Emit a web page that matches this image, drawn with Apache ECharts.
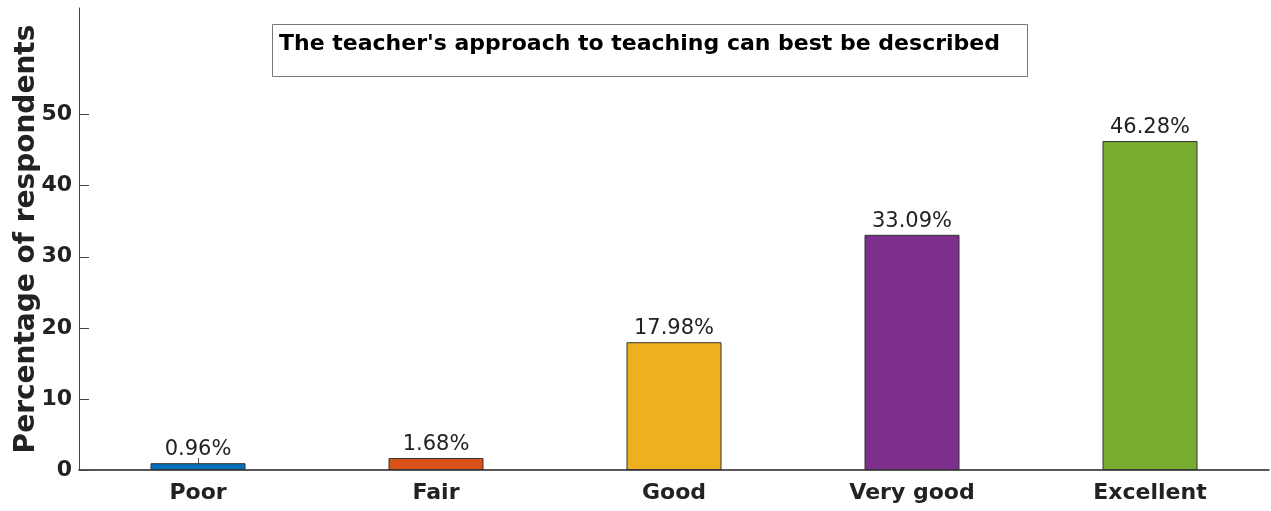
<!DOCTYPE html>
<html><head><meta charset="utf-8">
<script src="https://cdn.jsdelivr.net/npm/echarts@6/dist/echarts.min.js"></script>
<style>html,body{margin:0;padding:0;background:#fff}#c{width:1271px;height:511px}</style>
</head><body><div id="c"></div>
<script>
const categories = ['Poor', 'Fair', 'Good', 'Very good', 'Excellent'];
const values = [0.96, 1.68, 17.98, 33.09, 46.28];
const colors = ['#0072BD', '#D95319', '#EDB120', '#7E2F8E', '#77AC30'];
const yTicks = [0, 10, 20, 30, 40, 50];
const titleText = "The teacher's approach to teaching can best be described";
const yName = 'Percentage of respondents';

const chart = echarts.init(document.getElementById('c'));
const F = 'DejaVu Sans';
chart.setOption({
  animation: false,
  grid: { left: 79, right: 2, top: 8, bottom: 41, containLabel: false, outerBoundsMode: 'none' },
  xAxis: {
    type: 'category', data: categories, boundaryGap: true,
    axisLine: { lineStyle: { color: '#222', width: 1.5 } },
    axisTick: { show: true, inside: true, alignWithLabel: true, length: 12, lineStyle: { color: '#555' } },
    axisLabel: { fontFamily: F, fontWeight: 'bold', fontSize: 22, color: '#222', margin: 12 }
  },
  yAxis: {
    type: 'value', min: 0, max: 65, interval: 10,
    name: yName, nameLocation: 'middle', nameGap: 38, nameMoveOverlap: false,
    nameTextStyle: { fontFamily: F, fontWeight: 'bold', fontSize: 28, color: '#222' },
    splitLine: { show: false },
    axisLine: { show: true, lineStyle: { color: '#444', width: 1 } },
    axisTick: { show: true, inside: true, length: 10, customValues: yTicks, lineStyle: { color: '#444' } },
    axisLabel: { fontFamily: F, fontWeight: 'bold', fontSize: 22, color: '#222', margin: 7, customValues: yTicks }
  },
  series: [{
    type: 'bar', barWidth: 95,
    data: values.map((v, i) => ({ value: v, itemStyle: { color: colors[i] } })),
    itemStyle: { borderColor: '#333', borderWidth: 1 },
    label: { show: true, position: 'top', distance: 3, fontFamily: F, fontSize: 21, color: '#222',
      formatter: p => p.value.toFixed(2) + '%' }
  }],
  graphic: [
    { type: 'rect', left: 272, top: 24, shape: { width: 755, height: 52 },
      style: { fill: '#fff', stroke: '#777', lineWidth: 1 }, z: 10 },
    { type: 'text', left: 279, top: 33, z: 11,
      style: { text: titleText, fontFamily: F, fontWeight: 'bold', fontSize: 22, fill: '#000' } }
  ]
});
</script></body></html>
